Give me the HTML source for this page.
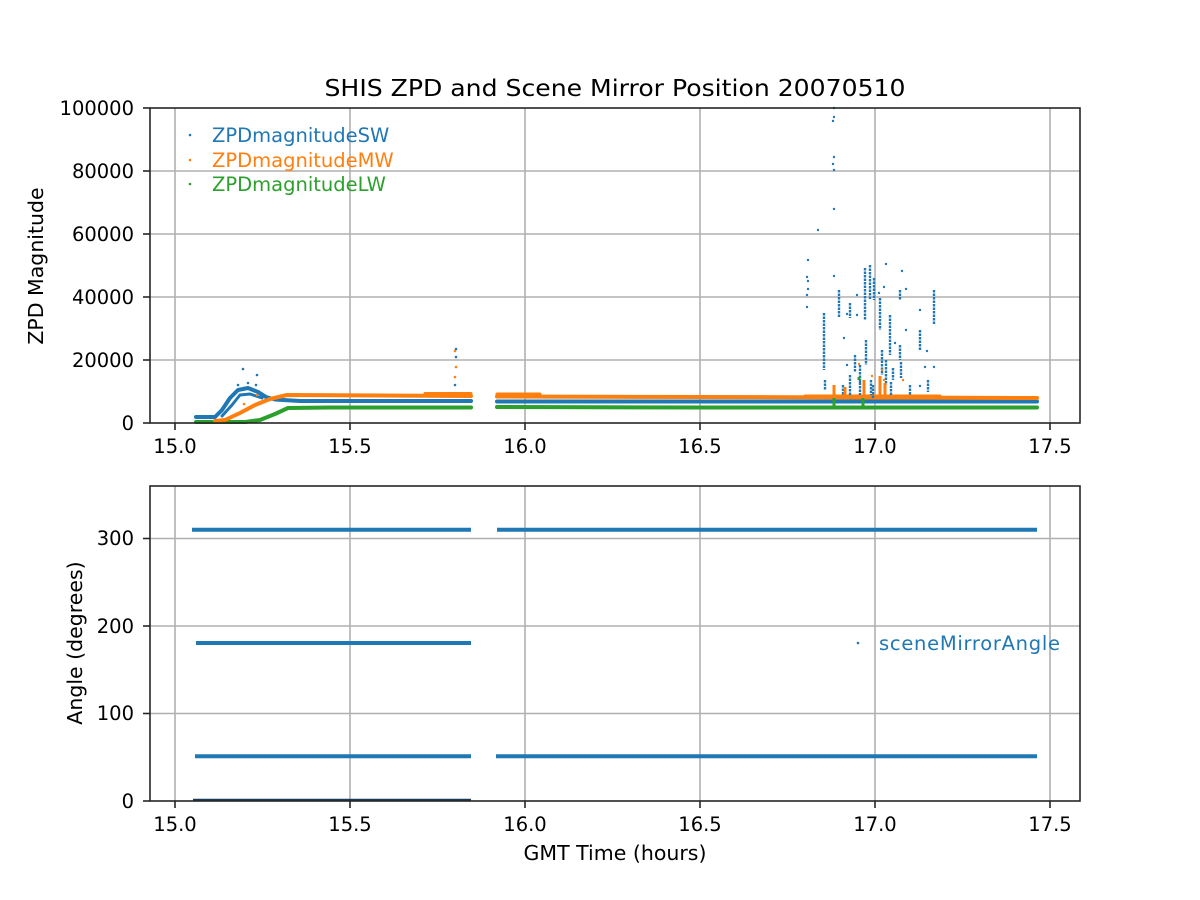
<!DOCTYPE html>
<html><head><meta charset="utf-8"><style>
html,body{margin:0;padding:0;background:#fff;}
svg{display:block;font-family:"DejaVu Sans","Liberation Sans",sans-serif;}
</style></head><body>
<svg width="1200" height="900" viewBox="0 0 1200 900" xmlns="http://www.w3.org/2000/svg">
<rect width="1200" height="900" fill="#fff"/>
<g stroke="#b0b0b0" stroke-width="1.6">
<line x1="175" y1="108" x2="175" y2="423"/><line x1="350" y1="108" x2="350" y2="423"/><line x1="525" y1="108" x2="525" y2="423"/><line x1="700" y1="108" x2="700" y2="423"/><line x1="875" y1="108" x2="875" y2="423"/><line x1="1050" y1="108" x2="1050" y2="423"/>
<line x1="150" y1="360" x2="1080" y2="360"/><line x1="150" y1="297" x2="1080" y2="297"/><line x1="150" y1="234" x2="1080" y2="234"/><line x1="150" y1="171" x2="1080" y2="171"/>
</g>
<g fill="none" stroke-linecap="round" stroke-linejoin="round">
<path d="M196 422 L245 422 L260 420 L275 414 L288 408 L330 407.5 L471 407.5" stroke="#2ca02c" stroke-width="4"/>
<path d="M497 407 L700 407.5 L1037 407.5" stroke="#2ca02c" stroke-width="4"/>
<path d="M196 417 L215 417 L222 410 L230 398 L238 390 L248 388 L258 392 L266 397 L275 399.5 L300 401 L471 401" stroke="#1f77b4" stroke-width="4"/>
<path d="M222 416 L232 405 L240 395 L250 394 L262 398" stroke="#1f77b4" stroke-width="3"/>
<path d="M497 401.5 L700 401.5 L1037 401.5" stroke="#1f77b4" stroke-width="4"/>
<path d="M215 421 L225 420 L240 413 L255 405 L270 399 L287 395 L471 396" stroke="#ff7f0e" stroke-width="4"/>
<path d="M497 396.5 L700 397 L1037 398" stroke="#ff7f0e" stroke-width="4"/>
<path d="M425 393.5 L471 393.5 M497 394 L540 394 M805 396 L940 396" stroke="#ff7f0e" stroke-width="3"/>
</g>
<g fill="#1f77b4">
<circle cx="243" cy="369" r="1.3"/><circle cx="257" cy="375" r="1.3"/><circle cx="248" cy="383" r="1.3"/><circle cx="256" cy="385" r="1.3"/><circle cx="238" cy="385" r="1.3"/><circle cx="244" cy="388" r="1.3"/>
<circle cx="456" cy="349" r="1.3"/><circle cx="456" cy="357" r="1.3"/><circle cx="455" cy="385" r="1.3"/>
<circle cx="834" cy="108" r="1.2"/><circle cx="834" cy="117" r="1.2"/><circle cx="833" cy="121" r="1.2"/><circle cx="834" cy="157" r="1.2"/><circle cx="833" cy="164" r="1.2"/><circle cx="834" cy="170" r="1.2"/><circle cx="834" cy="209" r="1.2"/><circle cx="818" cy="230" r="1.2"/><circle cx="834" cy="276" r="1.2"/>
<circle cx="808" cy="260" r="1.2"/><circle cx="807" cy="277" r="1.2"/><circle cx="808" cy="281" r="1.2"/><circle cx="808" cy="289" r="1.2"/><circle cx="807" cy="295" r="1.2"/><circle cx="807" cy="307" r="1.2"/>
<circle cx="847" cy="365" r="1.2"/><circle cx="844" cy="338" r="1.2"/><circle cx="847" cy="314" r="1.2"/><circle cx="857" cy="295" r="1.2"/><circle cx="857" cy="315" r="1.2"/><circle cx="860" cy="382" r="1.2"/>
<circle cx="879" cy="293" r="1.2"/><circle cx="884" cy="287" r="1.2"/><circle cx="886" cy="264" r="1.2"/><circle cx="880" cy="313" r="1.2"/>
<circle cx="902" cy="271" r="1.2"/><circle cx="906" cy="289" r="1.2"/><circle cx="920" cy="310" r="1.2"/><circle cx="927" cy="351" r="1.2"/><circle cx="925" cy="367" r="1.2"/><circle cx="934" cy="367" r="1.2"/><circle cx="920" cy="386" r="1.2"/>
<circle cx="900" cy="350" r="1.2"/><circle cx="906" cy="330" r="1.2"/><circle cx="895" cy="343" r="1.2"/>
</g>
<g stroke="#1f77b4" stroke-width="2.4" fill="none" stroke-dasharray="2.5 1">
<path d="M824 313 V370"/><path d="M825 380 V390"/><path d="M839 290 V318"/><path d="M850 303 V318"/>
<path d="M865 268 V320"/><path d="M866 340 V365"/><path d="M870 265 V300"/><path d="M871 380 V395"/><path d="M874 278 V300"/>
<path d="M880 298 V330"/><path d="M882 350 V375"/><path d="M886 360 V385"/><path d="M890 315 V355"/><path d="M893 368 V380"/>
<path d="M900 290 V300"/><path d="M901 362 V378"/><path d="M891 382 V395"/><path d="M910 385 V395"/>
<path d="M920 330 V350"/><path d="M934 290 V325"/><path d="M850 375 V395"/><path d="M860 365 V395"/><path d="M873 385 V398"/><path d="M843 385 V395"/><path d="M880 385 V395"/><path d="M855 355 V372"/><path d="M900 345 V360"/><path d="M928 380 V392"/>
</g>
<g fill="#ff7f0e">
<circle cx="455" cy="351" r="1.3"/><circle cx="456" cy="367" r="1.3"/><circle cx="455" cy="377" r="1.3"/><circle cx="257" cy="395" r="1.3"/><circle cx="244" cy="404" r="1.3"/>
<circle cx="859" cy="364" r="1.2"/><circle cx="872" cy="376" r="1.2"/><circle cx="882" cy="370" r="1.2"/><circle cx="884" cy="380" r="1.2"/><circle cx="903" cy="380" r="1.2"/>
</g>
<g stroke="#ff7f0e" stroke-width="3" fill="none"><path d="M834 385 V395 M864 380 V395 M880 376 V395 M885 383 V395 M845 387 V395"/></g>
<g stroke="#2ca02c" stroke-width="3" fill="none"><path d="M834 398 V406 M863 398 V406 M859 377 V380"/></g>
<rect x="150" y="108" width="930" height="315" fill="none" stroke="#262626" stroke-width="1.6"/>
<g stroke="#262626" stroke-width="1.6">
<line x1="175" y1="423" x2="175" y2="430"/><line x1="350" y1="423" x2="350" y2="430"/><line x1="525" y1="423" x2="525" y2="430"/><line x1="700" y1="423" x2="700" y2="430"/><line x1="875" y1="423" x2="875" y2="430"/><line x1="1050" y1="423" x2="1050" y2="430"/>
<line x1="143" y1="423" x2="150" y2="423"/><line x1="143" y1="360" x2="150" y2="360"/><line x1="143" y1="297" x2="150" y2="297"/><line x1="143" y1="234" x2="150" y2="234"/><line x1="143" y1="171" x2="150" y2="171"/><line x1="143" y1="108" x2="150" y2="108"/>
</g>
<g font-size="19.5" fill="#000" text-anchor="end">
<text x="134" y="430">0</text><text x="134" y="367">20000</text><text x="134" y="304">40000</text><text x="134" y="241">60000</text><text x="134" y="178">80000</text><text x="134" y="115">100000</text>
</g>
<g font-size="19.5" fill="#000" text-anchor="middle">
<text x="175" y="453">15.0</text><text x="350" y="453">15.5</text><text x="525" y="453">16.0</text><text x="700" y="453">16.5</text><text x="875" y="453">17.0</text><text x="1050" y="453">17.5</text>
</g>
<text x="615" y="96" font-size="23.5" text-anchor="middle" textLength="581" lengthAdjust="spacingAndGlyphs">SHIS ZPD and Scene Mirror Position 20070510</text>
<text transform="translate(43 266) rotate(-90)" font-size="20.5" text-anchor="middle">ZPD Magnitude</text>
<circle cx="190" cy="135" r="1.3" fill="#1f77b4"/><circle cx="190" cy="160" r="1.3" fill="#ff7f0e"/><circle cx="190" cy="184" r="1.3" fill="#2ca02c"/>
<g font-size="19.5">
<text x="212" y="142" fill="#1f77b4">ZPDmagnitudeSW</text>
<text x="212" y="167" fill="#ff7f0e">ZPDmagnitudeMW</text>
<text x="212" y="191" fill="#2ca02c">ZPDmagnitudeLW</text>
</g>
<g stroke="#b0b0b0" stroke-width="1.6">
<line x1="175" y1="486" x2="175" y2="801"/><line x1="350" y1="486" x2="350" y2="801"/><line x1="525" y1="486" x2="525" y2="801"/><line x1="700" y1="486" x2="700" y2="801"/><line x1="875" y1="486" x2="875" y2="801"/><line x1="1050" y1="486" x2="1050" y2="801"/>
<line x1="150" y1="713.5" x2="1080" y2="713.5"/><line x1="150" y1="626" x2="1080" y2="626"/><line x1="150" y1="538.5" x2="1080" y2="538.5"/>
</g>
<g stroke="#1f77b4" stroke-width="4" fill="none">
<path d="M192 529.7 H471 M497 529.7 H1037"/>
<path d="M196 643 H471"/>
<path d="M195 756.3 H471 M496 756.3 H1037"/>
</g>
<path d="M193 800 H471" stroke="#1a3a5a" stroke-width="2.5"/>
<circle cx="858" cy="643" r="1.3" fill="#1f77b4"/>
<text x="879" y="650" font-size="19.5" fill="#1f77b4" textLength="181">sceneMirrorAngle</text>
<rect x="150" y="486" width="930" height="315" fill="none" stroke="#262626" stroke-width="1.6"/>
<g stroke="#262626" stroke-width="1.6">
<line x1="175" y1="801" x2="175" y2="808"/><line x1="350" y1="801" x2="350" y2="808"/><line x1="525" y1="801" x2="525" y2="808"/><line x1="700" y1="801" x2="700" y2="808"/><line x1="875" y1="801" x2="875" y2="808"/><line x1="1050" y1="801" x2="1050" y2="808"/>
<line x1="143" y1="801" x2="150" y2="801"/><line x1="143" y1="713.5" x2="150" y2="713.5"/><line x1="143" y1="626" x2="150" y2="626"/><line x1="143" y1="538.5" x2="150" y2="538.5"/>
</g>
<g font-size="19.5" fill="#000" text-anchor="end">
<text x="134" y="808">0</text><text x="134" y="720">100</text><text x="134" y="633">200</text><text x="134" y="545">300</text>
</g>
<g font-size="19.5" fill="#000" text-anchor="middle">
<text x="175" y="831">15.0</text><text x="350" y="831">15.5</text><text x="525" y="831">16.0</text><text x="700" y="831">16.5</text><text x="875" y="831">17.0</text><text x="1050" y="831">17.5</text>
</g>
<text x="615" y="860" font-size="20.5" text-anchor="middle">GMT Time (hours)</text>
<text transform="translate(82 643) rotate(-90)" font-size="20.5" text-anchor="middle">Angle (degrees)</text>
</svg>
</body></html>
